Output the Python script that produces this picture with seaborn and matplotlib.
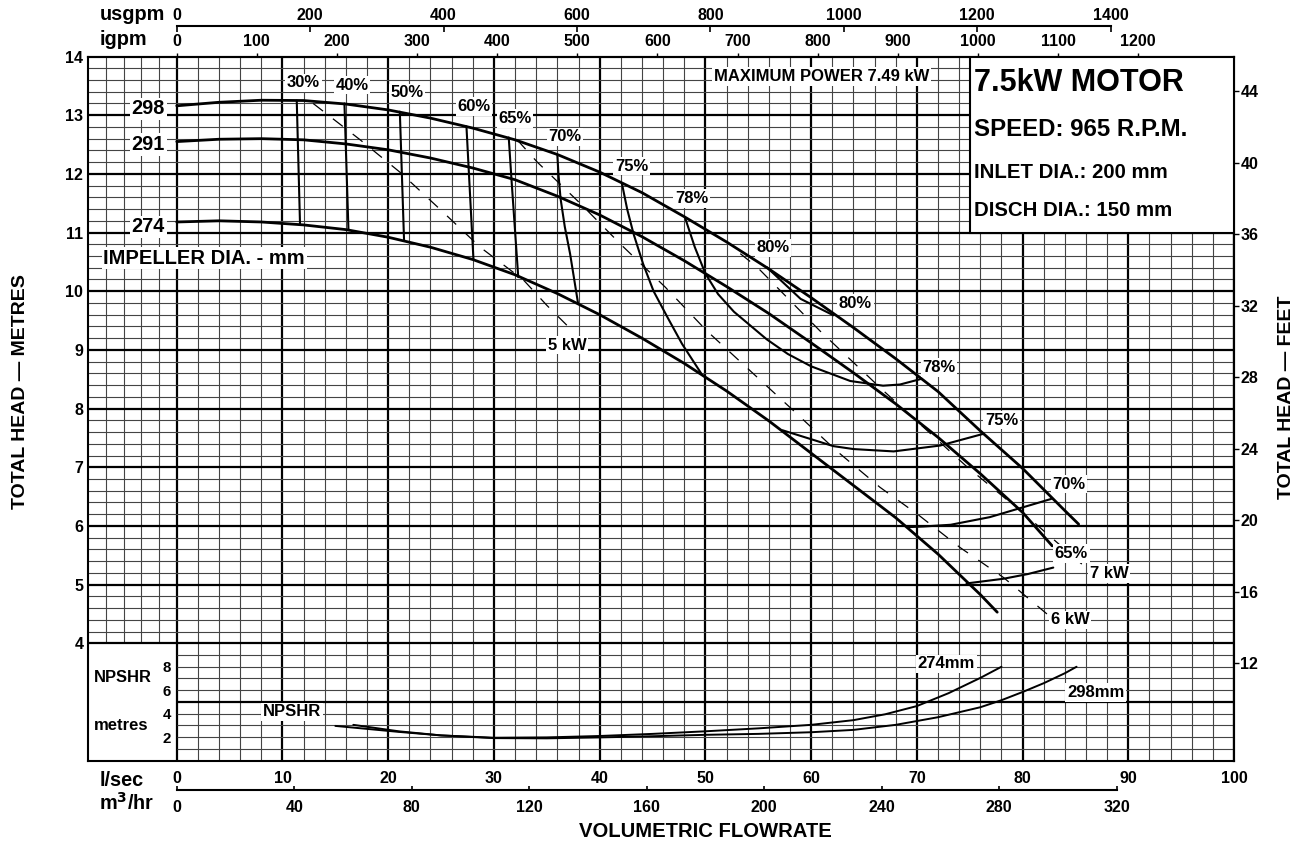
import matplotlib
matplotlib.use('Agg')
import numpy as np
import matplotlib.pyplot as plt
from matplotlib.patches import Rectangle
import seaborn as sns

sns.set_style("white")
plt.rcParams['font.family'] = ['Liberation Sans', 'DejaVu Sans']
plt.rcParams['font.weight'] = 'bold'
plt.rcParams['axes.linewidth'] = 1.5
plt.rcParams['axes.edgecolor'] = 'black'
plt.rcParams['text.color'] = 'black'
plt.rcParams['xtick.color'] = 'black'
plt.rcParams['ytick.color'] = 'black'
plt.rcParams['axes.labelcolor'] = 'black'

# ==================== data (flow l/sec, head m) ====================
# impeller head curves
q298 = [0, 4, 8, 12, 16, 20, 24, 28, 32, 36, 40, 44, 48, 52, 56, 60, 64, 68, 72, 76, 80, 84, 85.3]
h298 = [13.16, 13.22, 13.255, 13.25, 13.19, 13.09, 12.95, 12.78, 12.58, 12.33, 12.03, 11.68, 11.27,
        10.84, 10.38, 9.89, 9.38, 8.85, 8.29, 7.62, 6.98, 6.26, 6.03]
q291 = [0, 4, 8, 12, 16, 20, 24, 28, 32, 36, 40, 44, 48, 52, 56, 60, 64, 68, 72, 76, 80, 82.8]
h291 = [12.55, 12.59, 12.60, 12.58, 12.51, 12.41, 12.27, 12.10, 11.90, 11.62, 11.30, 10.93, 10.52,
        10.08, 9.62, 9.12, 8.61, 8.08, 7.51, 6.89, 6.23, 5.66]
q274 = [0, 4, 8, 12, 16, 20, 24, 28, 32, 36, 40, 44, 48, 52, 56, 60, 64, 68, 72, 76, 77.6]
h274 = [11.18, 11.20, 11.18, 11.13, 11.05, 10.92, 10.75, 10.54, 10.28, 9.96, 9.60, 9.20, 8.77,
        8.30, 7.79, 7.24, 6.69, 6.14, 5.52, 4.83, 4.53]

# iso-efficiency lines
eff_q = {
    '30': [11.35, 11.66],
    '40': [15.86, 16.24],
    '50': [21.1, 21.5],
    '60': [27.4, 28.06],
    '65': [31.4, 31.65, 32.3],
    '70': [36.0, 36.1, 36.3, 36.7, 37.2, 37.95],
    '75': [42.1, 42.6, 43.2, 44.1, 45.1, 46.4, 47.8, 49.6],
    '78': [48.1, 49.0, 50.0, 51.2, 52.7, 55.8, 57.8, 60.0, 63.7, 66.8, 68.4, 70.3],
    '80': [55.8, 59.0, 62.1],
    '75b': [57.3, 62.1, 64.0, 67.8, 72.2, 76.3],
    '70b': [69.2, 70.6, 73.2, 76.9, 82.7],
    '65b': [74.7, 78.2, 80.5, 82.9],
}
eff_h = {
    '30': [13.25, 11.14],
    '40': [13.20, 11.05],
    '50': [13.06, 10.86],
    '60': [12.81, 10.55],
    '65': [12.62, 11.93, 10.24],
    '70': [12.32, 12.0, 11.58, 11.1, 10.64, 9.80],
    '75': [11.84, 11.4, 10.98, 10.47, 10.0, 9.56, 9.1, 8.60],
    '78': [11.24, 10.75, 10.30, 9.95, 9.65, 9.18, 8.93, 8.72, 8.47, 8.39, 8.41, 8.50],
    '80': [10.41, 9.87, 9.59],
    '75b': [7.63, 7.36, 7.31, 7.27, 7.37, 7.57],
    '70b': [5.98, 5.99, 6.02, 6.15, 6.46],
    '65b': [5.02, 5.10, 5.18, 5.29],
}

# power lines (kW)
p5_q = [12.9, 17.35, 21.1, 25.0, 28.7, 32.8, 35.0, 37.4]
p5_h = [13.20, 12.58, 12.03, 11.38, 10.75, 10.19, 9.76, 9.33]
p6_q = [32.2, 34.1, 38.2, 42.1, 46.2, 50.1, 54.2, 58.3, 62.4, 66.5, 70.2, 74.1, 78.2, 82.3]
p6_h = [12.58, 12.20, 11.49, 10.78, 10.07, 9.33, 8.65, 7.97, 7.28, 6.66, 6.18, 5.63, 5.12, 4.50]
p7_q = [53.3, 54.9, 60.8, 66.8, 74.6, 80.7, 85.6]
p7_h = [10.64, 10.41, 9.33, 8.31, 7.03, 6.12, 5.35]

# NPSHR curves (flow l/sec, NPSHR m)
npsh274_q = [15.0, 21.0, 25.0, 30.0, 35.0, 40.0, 45.0, 50.0, 55.0, 60.0, 64.0, 67.0, 70.0, 73.0, 76.0, 78.0]
npsh274_n = [2.96, 2.45, 2.15, 1.95, 1.98, 2.10, 2.28, 2.50, 2.75, 3.05, 3.45, 3.95, 4.65, 5.75, 7.05, 8.00]
npsh298_q = [16.7, 21.0, 25.0, 30.0, 35.0, 40.0, 45.0, 50.0, 55.0, 60.0, 64.0, 68.0, 72.0, 76.0, 78.0, 80.0, 82.0, 84.0, 85.1]
npsh298_n = [3.05, 2.50, 2.15, 1.92, 1.90, 1.98, 2.08, 2.20, 2.28, 2.42, 2.62, 3.05, 3.70, 4.55, 5.15, 5.85, 6.60, 7.45, 8.00]

# axis ticks
ls_ticks = np.arange(0, 101, 10)
m3h_ticks = np.arange(0, 321, 40)
igpm_ticks = np.arange(0, 1201, 100)
usgpm_ticks = np.arange(0, 1401, 200)
head_ticks = np.arange(4, 15, 1)
feet_ticks = np.arange(12, 45, 4)
npsh_ticks = [2, 4, 6, 8]

LS_USGPM = 15.850
LS_IGPM = 13.198
LS_M3H = 3.6
M_FT = 3.28084

# ==================== figure ====================
fig = plt.figure(figsize=(13.03, 8.46), dpi=100)
ax = fig.add_axes([0.0678, 0.1009, 0.8793, 0.8323])
X0 = -8.36
ax.set_xlim(X0, 100)
ax.set_ylim(2, 14)

# graph-paper grid
minor_x = [v for v in np.arange(2, 100, 2) if v % 10 != 0]
ax.vlines(minor_x, 2, 14, color='#444444', lw=0.8, zorder=1)
ax.vlines(ls_ticks, 2, 14, color='black', lw=1.6, zorder=1)
ax.vlines(X0 + np.arange(1, 5) * (-X0 / 5), 4, 14, color='#444444', lw=0.8, zorder=1)
ys = np.round(np.arange(2.2, 14.0, 0.2), 1)
for y in ys:
    major = abs(y - round(y)) < 1e-6
    ax.hlines(y, X0 if y >= 4 else 0, 100,
              color='black' if major else '#444444', lw=1.6 if major else 0.8, zorder=1)


def curve(axis, q, h, lw, ls='-'):
    sns.lineplot(x=q, y=h, ax=axis, color='black', linewidth=lw, linestyle=ls,
                 sort=False, estimator=None, legend=False, zorder=3)


for q, h in [(q298, h298), (q291, h291), (q274, h274)]:
    curve(ax, q, h, 2.0)
for k in eff_q:
    curve(ax, eff_q[k], eff_h[k], 1.5)
for q, h in [(p5_q, p5_h), (p6_q, p6_h), (p7_q, p7_h)]:
    curve(ax, q, h, 0.9, (0, (10, 10)))

ax.set_xlabel('')
ax.set_ylabel('')
ax.set_xticks(ls_ticks)
ax.set_yticks(head_ticks)
ax.tick_params(axis='x', length=0, pad=7.3, labelsize=11.5)
ax.tick_params(axis='y', length=0, pad=3.6, labelsize=11.5)

box = dict(facecolor='white', edgecolor='none', pad=1.2)
labels = [
    ('30%', 12.0, 13.55), ('40%', 16.56, 13.51), ('50%', 21.8, 13.38), ('60%', 28.1, 13.15),
    ('65%', 32.0, 12.945), ('70%', 36.7, 12.63), ('75%', 43.0, 12.13), ('78%', 48.7, 11.58),
    ('80%', 56.4, 10.74), ('80%', 64.2, 9.79), ('78%', 72.1, 8.70), ('75%', 78.0, 7.80),
    ('70%', 84.4, 6.71), ('65%', 84.6, 5.53), ('7 kW', 88.2, 5.19), ('6 kW', 84.5, 4.40),
    ('5 kW', 36.9, 9.08), ('MAXIMUM POWER 7.49 kW', 61.0, 13.66),
    ('274mm', 72.8, 3.65), ('298mm', 86.9, 3.16), ('NPSHR', 10.9, 2.83),
]
for t, x, y in labels:
    ax.text(x, y, t, ha='center', va='center', fontsize=12, bbox=box, zorder=4)
for t, y in [('298', 13.11), ('291', 12.50), ('274', 11.10)]:
    ax.text(-2.69, y, t, ha='center', va='center', fontsize=14.3, bbox=box, zorder=4)
ax.text(-6.94, 10.56, 'IMPELLER DIA. - mm', ha='left', va='center', fontsize=14.5, bbox=box, zorder=4)
ax.text(-7.8, 3.42, 'NPSHR', ha='left', va='center', fontsize=11.9, zorder=4)
ax.text(-7.8, 2.60, 'metres', ha='left', va='center', fontsize=12, zorder=4)

# motor box
ax.add_patch(Rectangle((75, 11), 25, 3, facecolor='white', edgecolor='black', lw=1.5, zorder=4))
ax.text(75.4, 13.55, '7.5kW MOTOR', ha='left', va='center', fontsize=22, zorder=5)
ax.text(75.4, 12.75, 'SPEED: 965 R.P.M.', ha='left', va='center', fontsize=17.3, zorder=5)
ax.text(75.4, 12.03, 'INLET DIA.: 200 mm', ha='left', va='center', fontsize=14.7, zorder=5)
ax.text(75.4, 11.38, 'DISCH DIA.: 150 mm', ha='left', va='center', fontsize=14.7, zorder=5)

# NPSHR sub-scale
axn = ax.inset_axes([0, 2, 100, 2], transform=ax.transData)
axn.set_xlim(0, 100)
axn.set_ylim(0, 10)
axn.patch.set_alpha(0)
for s in axn.spines.values():
    s.set_visible(False)
curve(axn, npsh274_q, npsh274_n, 1.4)
curve(axn, npsh298_q, npsh298_n, 1.4)
axn.set_xlabel('')
axn.set_ylabel('')
axn.set_xticks([])
axn.set_yticks(npsh_ticks)
axn.tick_params(axis='y', direction='out', length=3, width=1, pad=1, labelsize=10.8)

# secondary scales
sec_ig = ax.secondary_xaxis('top', functions=(lambda q: q * LS_IGPM, lambda g: g / LS_IGPM))
sec_ig.set_xticks(igpm_ticks)
sec_ig.tick_params(direction='out', length=3, width=1, pad=2.5, labelsize=11.5)

sec_us = ax.secondary_xaxis(1.0433, functions=(lambda q: q * LS_USGPM, lambda u: u / LS_USGPM))
sec_us.set_xticks(usgpm_ticks)
sec_us.spines['top'].set_bounds(0, 1400)
sec_us.spines['top'].set_linewidth(1.5)
sec_us.tick_params(direction='in', length=4.5, width=1.2, pad=2, labelsize=11.5)

sec_m3 = ax.secondary_xaxis(-0.0418, functions=(lambda q: q * LS_M3H, lambda m: m / LS_M3H))
sec_m3.set_xticks(m3h_ticks)
sec_m3.spines['bottom'].set_bounds(0, 320)
sec_m3.spines['bottom'].set_linewidth(1.5)
sec_m3.tick_params(direction='in', length=3, width=1.2, pad=7, labelsize=11.5)

sec_ft = ax.secondary_yaxis('right', functions=(lambda m: m * M_FT, lambda f: f / M_FT))
sec_ft.set_yticks(feet_ticks)
sec_ft.tick_params(direction='out', length=3.6, width=1, pad=1, labelsize=11.5)

# axis titles
fig.text(0.0762, 1 - 19.5 / 846, 'usgpm', ha='left', va='baseline', fontsize=14.3)
fig.text(0.0762, 1 - 45 / 846, 'igpm', ha='left', va='baseline', fontsize=14.3)
fig.text(0.0762, 1 - 786 / 846, 'l/sec', ha='left', va='baseline', fontsize=14.3)
fig.text(0.0762, 1 - 810 / 846, 'm$^\\mathbf{3}$/hr', ha='left', va='baseline', fontsize=14.3)
fig.text(0.01535, 1 - 391.7 / 846, 'TOTAL HEAD — METRES', rotation=90, ha='center', va='center', fontsize=14)
fig.text(0.9875, 1 - 397 / 846, 'TOTAL HEAD — FEET', rotation=90, ha='center', va='center', fontsize=14)
fig.text(0.541, 1 - 831 / 846, 'VOLUMETRIC FLOWRATE', ha='center', va='center', fontsize=14.6)

fig.savefig('out.png', dpi=100)
plt.close(fig)
